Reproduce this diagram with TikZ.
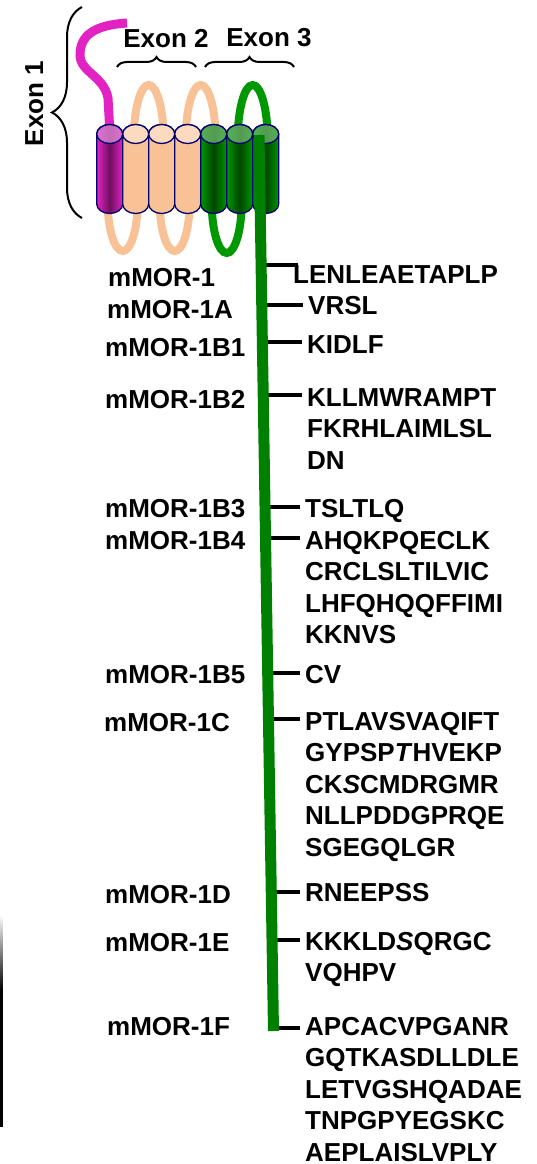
\documentclass[tikz,border=0pt]{standalone}
\usepackage{fontspec}
\setmainfont{Liberation Sans}
\usetikzlibrary{calc,decorations.pathreplacing}
\definecolor{navy}{RGB}{0,0,110}
\definecolor{peach}{RGB}{249,194,150}
\definecolor{peachtop}{RGB}{252,218,192}
\definecolor{magC}{RGB}{226,34,194}
\definecolor{magD}{RGB}{110,16,94}
\definecolor{magT}{RGB}{222,140,214}
\definecolor{grnC}{RGB}{0,150,0}
\definecolor{grnD}{RGB}{0,70,0}
\definecolor{grnT}{RGB}{120,190,120}
\definecolor{loopgrn}{RGB}{0,152,0}
\definecolor{tailgrn}{RGB}{0,128,0}

\begin{document}
\begin{tikzpicture}[x=1pt,y=-1pt,
    helix/.style={draw=navy,line width=1.3pt},
    mag body/.style={left color=magC,right color=magC,middle color=magD},
    pea body/.style={fill=peach},
    grn body/.style={left color=grnC,right color=grnC,middle color=grnD},
    mag top/.style={fill=magT,fill opacity=0.75},
    pea top/.style={fill=peachtop},
    grn top/.style={fill=grnT,fill opacity=0.7},
    pealoop/.style={draw=peach,line width=8pt},
    grnloop/.style={draw=loopgrn,line width=8pt},
    brace/.style={decorate,decoration={brace,amplitude=#1},line width=2pt},
    exon/.style={inner sep=0,font=\fontsize{26}{31.5}\selectfont\bfseries},
    lbl/.style={anchor=base west,inner sep=0,font=\fontsize{26}{31.5}\selectfont\bfseries},
    seq/.style={lbl,align=left},
    tick/.style={line width=4.5pt,shorten >=5pt},
    ctail/.style={tailgrn,line width=11pt}]
  \useasboundingbox (0,0) rectangle (537,1164);

  % exon brackets
  \draw[brace=30] (82,218) -- (82,7);
  \draw[brace=10] (117,67) -- (196,67);
  \draw[brace=10] (205,67) -- (294,67);
  \node[exon,rotate=90,anchor=base] (ex1) at (43,103.5) {Exon 1};
  \node[exon,anchor=base] (ex2) at (166,48) {Exon 2};
  \node[exon,anchor=base] (ex3) at (269,47) {Exon 3};

  % loops behind the helices
  \draw[pealoop] (148.7,140) ellipse[x radius=15,y radius=55];
  \draw[pealoop] (200.7,140) ellipse[x radius=15,y radius=55];
  \draw[grnloop] (252.7,140) ellipse[x radius=15,y radius=55];
  \draw[pealoop] (122.7,202) ellipse[x radius=15,y radius=49];
  \draw[pealoop] (174.7,202) ellipse[x radius=15,y radius=49];
  \draw[grnloop] (226.7,202) ellipse[x radius=15,y radius=51];

  % N-terminus
  \draw[magC,line width=9pt] (127,23) .. controls (95,25) and (80,35) .. (80,55)
    .. controls (80,72) and (104,76) .. (108,98) -- (110,134);

  % seven helices
  \foreach \i/\kind in {0/mag,1/pea,2/pea,3/pea,4/grn,5/grn,6/grn}{
    \pgfmathsetmacro{\xl}{96.7+26*\i}
    \path[helix,\kind\space body] (\xl,134) -- (\xl,204)
      arc[start angle=180,end angle=0,x radius=13,y radius=9.5] -- (\xl+26,134)
      arc[start angle=360,end angle=180,x radius=13,y radius=9.5] -- cycle;
    \path[helix,\kind\space top] (\xl+13,134) ellipse[x radius=13,y radius=9.5];
  }

  % splice variants (multi-line sequences sit on their last baseline)
  \node[lbl] (l1) at (108,286) {mMOR-1};
  \node[seq] (s1) at (293,283) {LENLEAETAPLP};
  \node[lbl] (l1A) at (107,318) {mMOR-1A};
  \node[seq] (s1A) at (308,314) {VRSL};
  \node[lbl] (l1B1) at (105,356) {mMOR-1B1};
  \node[seq] (s1B1) at (307,353) {KIDLF};
  \node[lbl] (l1B2) at (105,408) {mMOR-1B2};
  \node[seq] (s1B2) at (307,469) {KLLMWRAMPT\\FKRHLAIMLSL\\DN};
  \node[lbl] (l1B3) at (105,517) {mMOR-1B3};
  \node[seq] (s1B3) at (305,517) {TSLTLQ};
  \node[lbl] (l1B4) at (105,549) {mMOR-1B4};
  \node[seq] (s1B4) at (305,643.5) {AHQKPQECLK\\CRCLSLTILVIC\\LHFQHQQFFIMI\\KKNVS};
  \node[lbl] (l1B5) at (105,683) {mMOR-1B5};
  \node[seq] (s1B5) at (305,683) {CV};
  \node[lbl] (l1C) at (104,731) {mMOR-1C};
  \node[seq] (s1C) at (305,856) {PTLAVSVAQIFT\\GYPSP\textit{T}HVEKP\\CK\textit{S}CMDRGMR\\NLLPDDGPRQE\\SGEGQLGR};
  \node[lbl] (l1D) at (105,903) {mMOR-1D};
  \node[seq] (s1D) at (305,901) {RNEEPSS};
  \node[lbl] (l1E) at (105,951) {mMOR-1E};
  \node[seq] (s1E) at (305,981.5) {KKKLD\textit{S}QRGC\\VQHPV};
  \node[lbl] (l1F) at (107,1035) {mMOR-1F};
  \node[seq] (s1F) at (305,1161) {APCACVPGANR\\GQTKASDLLDLE\\LETVGSHQADAE\\TNPGPYEGSKC\\AEPLAISLVPLY};

  % ticks start under the C-terminal tail
  \coordinate (k1) at (261,265);
  \coordinate (k1A) at (262,305);
  \coordinate (k1B1) at (262,342);
  \coordinate (k1B2) at (263,395);
  \coordinate (k1B3) at (265,507);
  \coordinate (k1B4) at (265,538);
  \coordinate (k1B5) at (267,673);
  \coordinate (k1C) at (268,719);
  \coordinate (k1D) at (271,892);
  \coordinate (k1E) at (272,940);
  \coordinate (k1F) at (273,1028);
  \draw[tick,shorten >=-5pt] (k1) -- (k1 -| s1.west);
  \draw[tick] (k1A) -- (k1A -| s1A.west);
  \draw[tick] (k1B1) -- (k1B1 -| s1B1.west);
  \draw[tick] (k1B2) -- (k1B2 -| s1B2.west);
  \draw[tick] (k1B3) -- (k1B3 -| s1B3.west);
  \draw[tick] (k1B4) -- (k1B4 -| s1B4.west);
  \draw[tick] (k1B5) -- (k1B5 -| s1B5.west);
  \draw[tick] (k1C) -- (k1C -| s1C.west);
  \draw[tick] (k1D) -- (k1D -| s1D.west);
  \draw[tick] (k1E) -- (k1E -| s1E.west);
  \draw[tick] (k1F) -- (k1F -| s1F.west);

  % C-terminal tail
  \coordinate (tailtop) at (259,135);
  \coordinate (tailbot) at (273.5,1031);
  \draw[ctail] (tailtop) -- (tailbot);

  % edge rule
  \shade[top color=white,bottom color=black] (0,915) rectangle (2.5,990);
  \fill (0,990) rectangle (2.5,1127);
\end{tikzpicture}
\end{document}
